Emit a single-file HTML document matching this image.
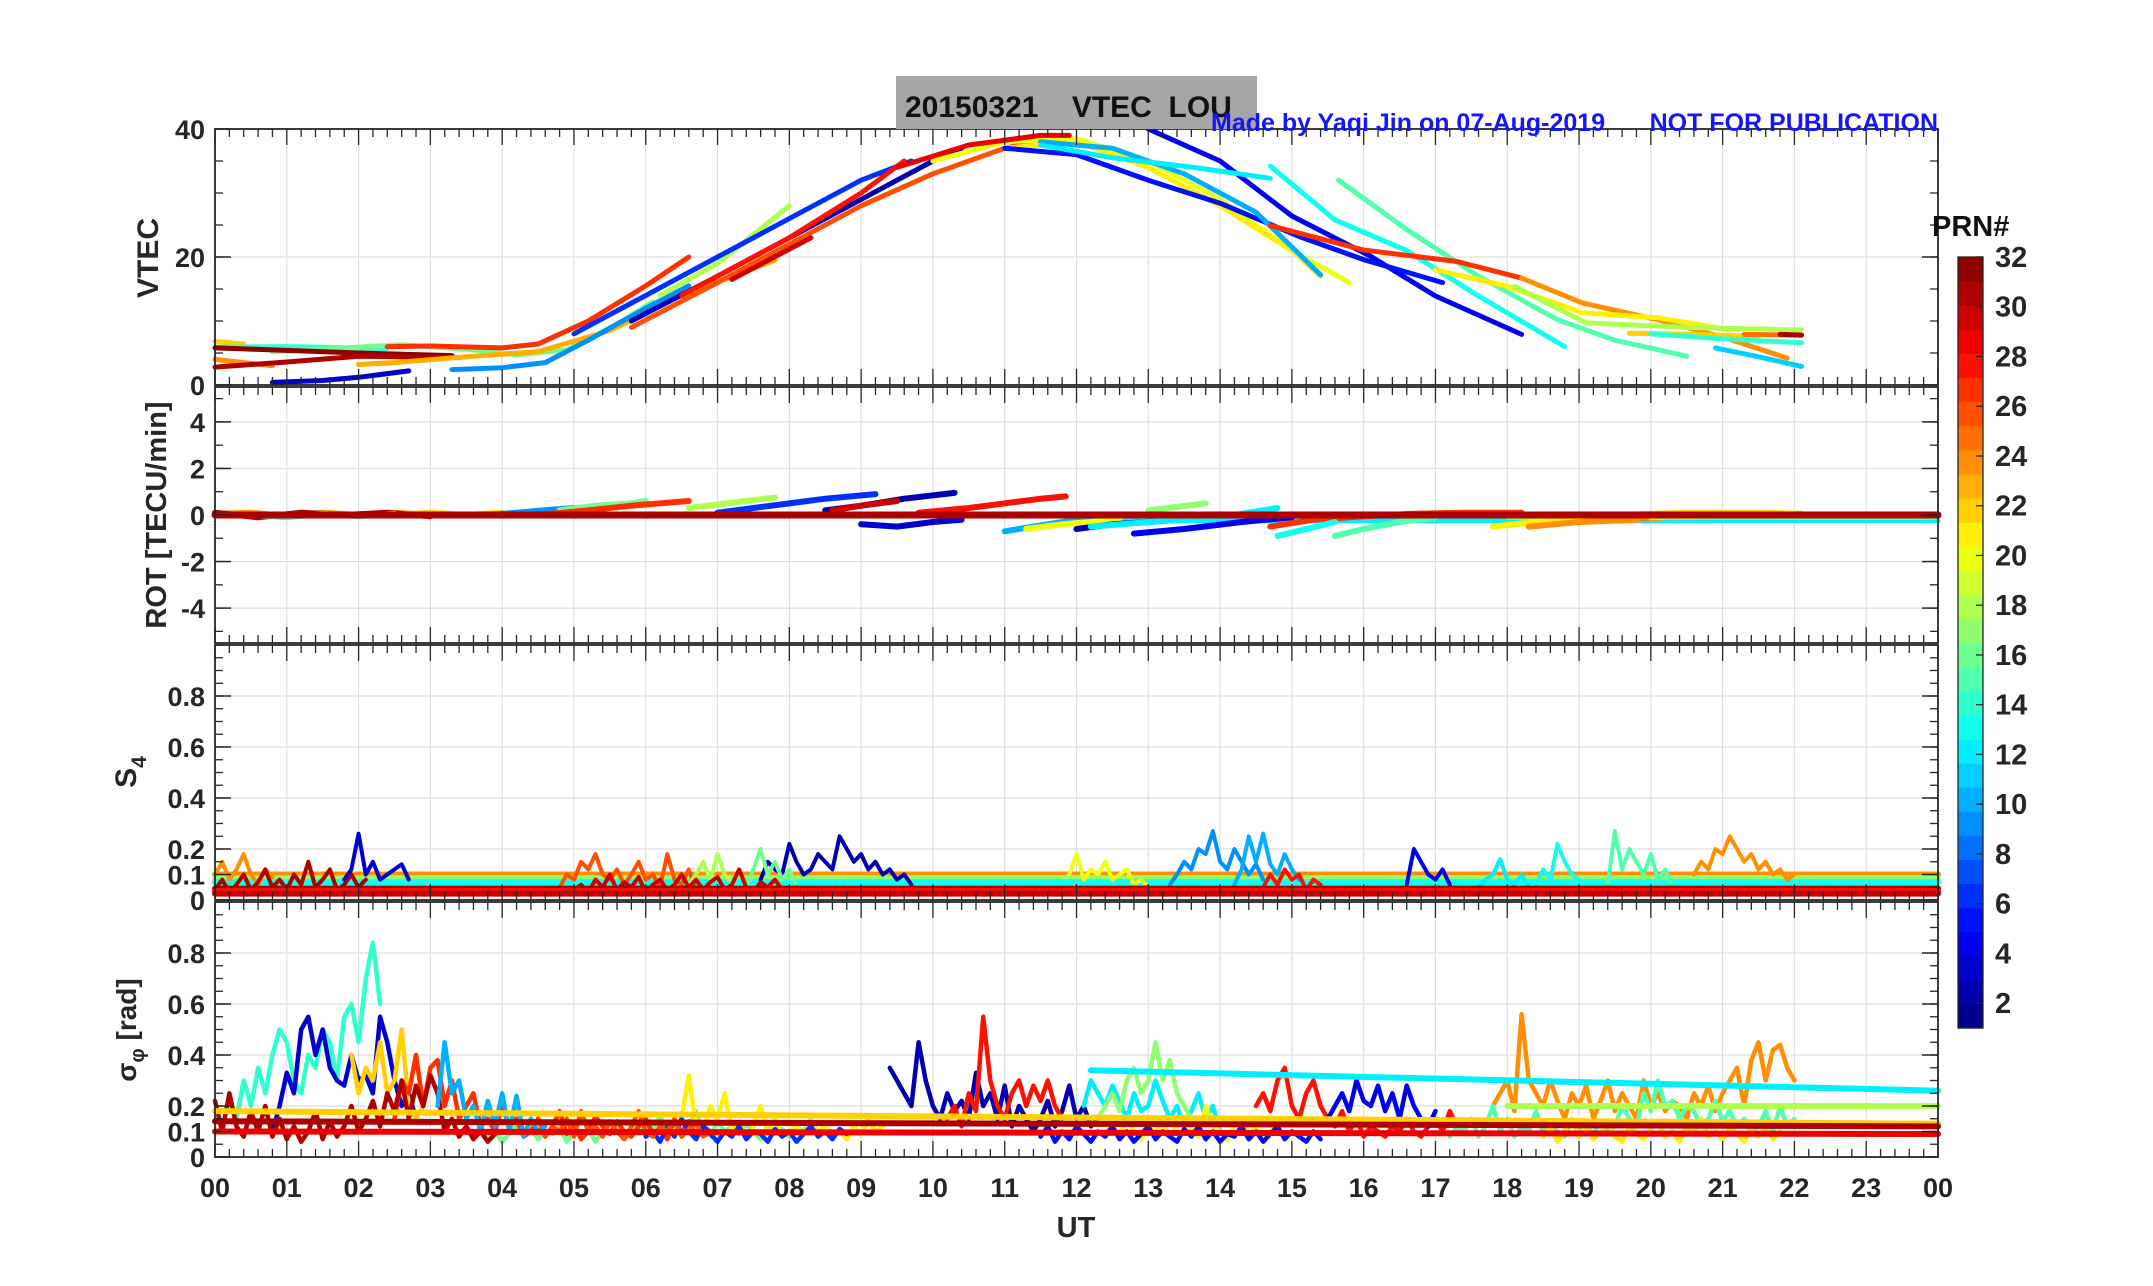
<!DOCTYPE html>
<html><head><meta charset="utf-8"><style>
html,body{margin:0;padding:0;background:#fff;}
svg{display:block;font-family:"Liberation Sans",Arial,sans-serif;}
</style></head><body>
<svg id="fig" width="2153" height="1286" viewBox="0 0 2153 1286" xmlns="http://www.w3.org/2000/svg">
<g id="grid"></g>
<g id="data"></g>
<g id="axes"></g>
<rect x="896" y="76" width="361" height="53" fill="#a6a6a6"/>
<text x="905" y="117" font-size="30" font-weight="bold" fill="#111" xml:space="preserve">20150321    VTEC  LOU</text>
<text x="1211" y="131" font-size="25" font-weight="bold" fill="#1414ff">Made by Yaqi Jin on 07-Aug-2019</text>
<text x="1938" y="131" font-size="25" font-weight="bold" fill="#1414ff" text-anchor="end">NOT FOR PUBLICATION</text>
<text x="1076" y="1237" font-size="29" font-weight="bold" fill="#262626" text-anchor="middle">UT</text>
<text transform="translate(158,258) rotate(-90)" font-size="30" font-weight="bold" fill="#262626" text-anchor="middle">VTEC</text>
<text transform="translate(166,515) rotate(-90)" font-size="29" font-weight="bold" fill="#262626" text-anchor="middle">ROT [TECU/min]</text>
<text transform="translate(136,772) rotate(-90)" font-size="30" font-weight="bold" fill="#262626" text-anchor="middle">S<tspan font-size="21" dy="10">4</tspan></text>
<text transform="translate(136,1030) rotate(-90)" font-size="28" font-weight="bold" fill="#262626" text-anchor="middle">σ<tspan font-size="20" dy="8">φ</tspan><tspan dy="-8"> [rad]</tspan></text>
<text x="1932" y="236" font-size="29" font-weight="bold" fill="#111">PRN#</text>
<g id="cbar"></g>
</svg>
<script>
// ---- data arrays ----
const hourTicks = ["00","01","02","03","04","05","06","07","08","09","10","11","12","13","14","15","16","17","18","19","20","21","22","23","00"];
const vtecTicks = [0,20,40];
const rotTicks = [-4,-2,0,2,4];
const s4Ticks = [0,0.1,0.2,0.4,0.6,0.8];
const sigTicks = [0,0.1,0.2,0.4,0.6,0.8];
const cbarTicks = [2,4,6,8,10,12,14,16,18,20,22,24,26,28,30,32];

// VTEC passes
const vtecPrn = [22,14,16,32,24,31,3,23,27,9,18,26,30,6,2,28,20,21,29,4,5,10,12,13,15,27,24,21,18,22,25,31,11,14];
const vtecT = [
 [0,0.4],[0,1,2.4],[0.8,1.8,2.6,3.5,4.2,4.9,5.6,6.1],[0,1,2,3.3],[0,0.8],[0,1,2,3.4],[0.8,1.5,2.0,2.7],
 [2,2.5,3.5,4.5,5.5,6.5,7.8],[2.4,3,4,4.5,5.2,6,6.6],[3.3,4,4.6,5.2,6,6.6],[6.2,7,8],[5.8,7,8,9,10,11,11.8],
 [7.2,8.3],[5,6,7,8,9,9.7],[5.8,7,8,9,10,10.4],[6.5,8,9,9.6],[10,11,12,13,14,15,15.8],[11,12,13,14,15,15.4],
 [9.5,10.5,11.5,11.9],[13,14,15,16.1,17,18.2],[11,12,13,14,15.1,16,17.1],[11.5,12.5,13.5,14.5,15.4],
 [11.5,12.5,13.7,14.7],[14.7,15.6,16.6,17.6,18.8],[15.65,16.6,17.6,18.7,19.5,20.5],[14.7,16,17.3,18.2],
 [18.2,19.05,20.1,21,21.9],[17,18,19.05,20.1,21.1],[18.1,19.1,20.5,22.1],[19.7,20.6,21.5],[21.3,22.1],[21.8,22.1],[20.9,21.5,22.1],[20,21,22.1]];
const vtecV = [
 [6.8,6.4],[5.9,6.0,5.7],[5.2,5.8,6.3,5.6,4.7,5.5,9.5,13],[5.8,5.4,5.0,4.6],[4,3],[2.8,3.6,4.5,4.3],[0.4,0.7,1.2,2.2],
 [3.2,3.5,4.4,5.2,8.5,14,19.5],[6,6.1,5.8,6.4,10,15.5,20],[2.4,2.7,3.5,7,12,15.5],[14,19,28],[9,16,22,28,33,37,39],
 [16.5,23],[8,14,20,26,32,35],[10,17,23,29,35,37],[14,23,30,35],[35,38,38.5,35,29,21,16],[37,38,34,28,21,17],
 [34,37.5,39,39],[40,35,26.4,20.1,13.9,7.9],[37,36,32,28.4,23.2,19.6,16],[38,37,33,27,17.2],
 [37.5,35.5,33.9,32.3],[34.2,25.8,21,13.9,6],[32,24.3,17,10.2,7,4.5],[24.9,21.1,19.3,16.7],
 [16.7,12.8,10.2,7.5,4.2],[18,15.4,11.3,10.5,8.6],[15.4,9.7,9,8.6],[8.1,7.9,7.6],[7.9,7.8],[7.9,7.8],[5.8,4.4,2.9],[8,7.2,6.6]];

// ROT passes (TECU/min)
const rotPrn = [24,31,14,22,9,16,27,18,6,2,30,28,3,10,20,2,12,17,4,27,13,15,21,24,22,21];
const rotT = [
 [0,0.5,1,1.5,2,2.5,3],[0,0.6,1.2,1.8,2.4,3],[0.5,1,1.5,2,2.5],[2.5,3,3.5,4],[3.8,4.2,4.6,5],[4.8,5.3,5.8,6],[4.5,5.2,5.8,6.6],
 [6.6,7,7.4,7.8],[7,7.5,8,8.5,9.2],[8.5,9,9.6,10.3],[8.6,9,9.5],[9.8,10.5,11,11.5,11.85],[9,9.5,10,10.4],
 [11,11.4,11.8,12.2],[11.3,11.8,12.2,12.6],[12,12.5,13,13.4],[12.2,13,14,14.8],[13,13.4,13.8],[12.8,13.5,14.3,15],
 [14.7,15.3,16,16.7,17.4,18.2],[14.8,15.2,15.6],[15.6,16,16.5,17],[17.8,18.4,19,19.5],[18.3,19,19.8,20.5],[19.5,20.5,21.5,22.1],[20,21,22]];
const rotV = [
 [0.05,0.1,-0.05,0.1,0,0.1,0],[0.1,-0.1,0.1,0,0.1,-0.05],[0,-0.1,0.05,-0.05,0.05],[0,0.1,0,0.1],[0,0.1,0.2,0.3],[0.2,0.4,0.5,0.6],[0,0.2,0.4,0.6],
 [0.3,0.45,0.6,0.75],[0.1,0.3,0.5,0.7,0.9],[0.2,0.4,0.7,0.95],[0.2,0.4,0.6],[0.1,0.3,0.5,0.7,0.8],[-0.4,-0.5,-0.3,-0.2],
 [-0.7,-0.5,-0.3,-0.1],[-0.6,-0.4,-0.3,-0.2],[-0.6,-0.4,-0.3,-0.2],[-0.5,-0.3,-0.1,0.3],[0.2,0.35,0.5],[-0.8,-0.6,-0.3,-0.1],
 [-0.5,-0.2,-0.05,0.05,0.1,0.1],[-0.9,-0.6,-0.3],[-0.9,-0.6,-0.3,-0.1],[-0.5,-0.3,-0.2,0],[-0.5,-0.3,-0.2,0],[0,0.1,0.1,0.05],[-0.1,0,0.05]];

// S4 horizontal fit lines
const s4LinePrn = [24,17,13,31,28,30];
const s4LineV = [0.10,0.085,0.07,0.045,0.035,0.025];
// S4 noisy traces
const s4Prn = [24,31,3,26,2,16,18,9,20,10,28,4,13,15,24,30,12];
const s4T0 = [0,0,1.8,4.8,7.6,7.4,6.6,13.3,11.9,14.2,14.6,16.6,18.4,19.4,20.6,5.0,17.6];
const s4Dt = 0.1;
const s4V = [
 [0.1,0.15,0.08,0.12,0.18,0.1,0.06,0.12,0.09],
 [0.04,0.08,0.03,0.06,0.1,0.04,0.07,0.12,0.05,0.08,0.04,0.1,0.06,0.15,0.05,0.08,0.12,0.04,0.06,0.1,0.05,0.08],
 [0.08,0.12,0.26,0.1,0.15,0.08,0.1,0.12,0.14,0.08],
 [0.05,0.1,0.08,0.15,0.12,0.18,0.1,0.08,0.12,0.06,0.1,0.15,0.08,0.1,0.05,0.18,0.08,0.06,0.12,0.04],
 [0.08,0.15,0.12,0.1,0.22,0.15,0.1,0.12,0.18,0.15,0.12,0.25,0.2,0.15,0.18,0.12,0.15,0.1,0.12,0.08,0.1,0.06],
 [0.06,0.12,0.2,0.1,0.15,0.08,0.12,0.05],
 [0.06,0.1,0.15,0.08,0.18,0.1,0.07],
 [0.06,0.1,0.15,0.12,0.2,0.18,0.27,0.15,0.12,0.2,0.15,0.1,0.14,0.08],
 [0.1,0.18,0.08,0.12,0.1,0.15,0.08,0.1,0.12,0.06,0.08,0.05],
 [0.06,0.12,0.25,0.15,0.26,0.14,0.1,0.18,0.12,0.08],
 [0.05,0.1,0.06,0.12,0.08,0.1,0.04,0.08,0.06],
 [0.06,0.2,0.15,0.1,0.08,0.12,0.06],
 [0.06,0.12,0.08,0.22,0.15,0.1,0.08],
 [0.06,0.27,0.12,0.2,0.15,0.1,0.18,0.08,0.12,0.05],
 [0.1,0.15,0.12,0.2,0.18,0.25,0.2,0.15,0.18,0.12,0.15,0.1,0.12,0.08,0.1],
 [0.04,0.06,0.03,0.08,0.05,0.1,0.04,0.07,0.05,0.09,0.03,0.06,0.08,0.04,0.06,0.1,0.05,0.08,0.04,0.07,0.09,0.04,0.06,0.12,0.05,0.03,0.07,0.05,0.08,0.04],
 [0.05,0.08,0.1,0.16,0.08,0.06,0.1,0.05]];

// sigma_phi horizontal fit lines
const sigLinePrn = [12,18,22,31,29];
const sigLineT0 = [12.2,18.0,0,0,0];
const sigLineV0 = [0.34,0.20,0.18,0.14,0.10];
const sigLineV1 = [0.26,0.20,0.13,0.12,0.09];
// sigma_phi noisy traces
const sigPrn = [16,14,3,22,27,31,10,21,2,6,28,12,17,20,28,4,24,15,26,5,21];
const sigT0 = [3.5,0.3,0.8,1.9,2.5,0,3.1,6.4,9.4,6.0,10.2,12.1,12.3,12.4,14.5,15.5,17.8,17.2,4.6,11.5,18.5];
const sigDt = 0.1;
const sigV = [
 [0.1,0.08,0.12,0.07,0.1,0.06,0.09,0.12,0.08,0.11,0.07,0.1,0.09,0.12,0.06,0.1,0.08,0.11,0.06,0.1,0.09,0.12,0.07,0.1,0.14,0.08,0.11,0.16,0.1,0.13,0.08,0.12,0.18,0.1,0.08,0.14,0.1,0.12,0.09,0.13,0.1,0.07,0.12,0.09,0.11,0.08,0.12,0.1,0.15,0.09],
 [0.15,0.3,0.2,0.35,0.25,0.4,0.5,0.45,0.3,0.25,0.4,0.35,0.5,0.45,0.3,0.55,0.6,0.45,0.7,0.84,0.6],
 [0.1,0.2,0.33,0.25,0.5,0.55,0.4,0.5,0.35,0.3,0.28,0.4,0.3,0.32,0.25,0.55,0.45,0.3,0.2,0.25,0.15],
 [0.4,0.25,0.35,0.3,0.45,0.25,0.3,0.5,0.2,0.15,0.2],
 [0.15,0.3,0.25,0.4,0.2,0.35,0.38,0.2,0.3,0.15,0.2,0.25,0.12,0.15,0.1,0.2,0.12,0.15,0.08,0.1,0.15,0.08,0.12,0.18,0.09,0.13,0.07,0.1,0.16,0.12,0.09,0.14,0.1,0.08,0.12,0.15,0.09,0.11,0.07,0.13,0.1,0.14,0.08,0.12,0.1],
 [0.22,0.1,0.25,0.12,0.08,0.18,0.1,0.2,0.08,0.15,0.07,0.12,0.06,0.1,0.18,0.07,0.14,0.08,0.12,0.2,0.1,0.15,0.22,0.12,0.25,0.18,0.3,0.15,0.28,0.2,0.32,0.25,0.1,0.15,0.08,0.12,0.07,0.1,0.06,0.09],
 [0.2,0.45,0.25,0.3,0.15,0.2,0.1,0.22,0.12,0.25,0.1,0.24,0.08,0.15,0.1,0.12],
 [0.1,0.15,0.32,0.12,0.1,0.2,0.15,0.25,0.1,0.14,0.08,0.12,0.2,0.1,0.15,0.08,0.1,0.12,0.09,0.14,0.1,0.12,0.08,0.1,0.07,0.12,0.09,0.15,0.1,0.12],
 [0.35,0.3,0.25,0.2,0.45,0.3,0.2,0.15,0.25,0.18,0.22,0.15,0.33,0.2,0.25,0.15,0.28,0.12,0.2,0.15,0.1,0.15,0.22,0.12,0.18,0.28,0.15,0.2,0.12,0.15],
 [0.08,0.1,0.06,0.12,0.08,0.15,0.1,0.07,0.12,0.09,0.06,0.1,0.08,0.12,0.07,0.1,0.09,0.06,0.11,0.08,0.1,0.06,0.09,0.12,0.08,0.1,0.07,0.11,0.09],
 [0.15,0.2,0.12,0.25,0.18,0.55,0.3,0.2,0.15,0.25,0.3,0.2,0.28,0.22,0.3,0.2,0.15],
 [0.2,0.3,0.25,0.2,0.28,0.22,0.15,0.25,0.18,0.2,0.3,0.22,0.15,0.2,0.12,0.18,0.25,0.15,0.2,0.1],
 [0.15,0.2,0.25,0.18,0.3,0.35,0.25,0.3,0.45,0.3,0.38,0.25,0.2,0.15],
 [0.1,0.12,0.08,0.15,0.1,0.07,0.12,0.09,0.14,0.08,0.12,0.16,0.1,0.08,0.2,0.12,0.1,0.07,0.12,0.15,0.09,0.11,0.08,0.1,0.13],
 [0.2,0.25,0.18,0.3,0.35,0.2,0.15,0.25,0.3,0.2,0.15,0.12,0.18,0.1,0.15,0.08,0.12,0.1,0.08,0.12,0.1,0.15,0.1,0.08,0.12,0.15,0.1,0.18,0.12],
 [0.15,0.2,0.25,0.18,0.3,0.22,0.2,0.28,0.18,0.25,0.15,0.28,0.2,0.15,0.12,0.18],
 [0.2,0.25,0.3,0.18,0.56,0.3,0.25,0.2,0.3,0.22,0.15,0.25,0.2,0.28,0.15,0.22,0.3,0.18,0.25,0.2,0.15,0.3,0.2,0.25,0.18,0.22,0.2,0.15,0.25,0.2,0.28,0.18,0.25,0.3,0.35,0.2,0.38,0.45,0.3,0.42,0.44,0.35,0.3],
 [0.08,0.12,0.1,0.15,0.08,0.12,0.2,0.1,0.15,0.08,0.12,0.1,0.18,0.09,0.13,0.1,0.08,0.15,0.1,0.12,0.09,0.14,0.1,0.12,0.2,0.15,0.12,0.25,0.18,0.3,0.2,0.22,0.15,0.2,0.18,0.12,0.15,0.22,0.14,0.18,0.12,0.15,0.1,0.12,0.18,0.1,0.2,0.12,0.15],
 [0.08,0.12,0.1,0.15,0.08,0.18,0.1,0.12,0.08,0.14,0.1,0.07,0.12,0.18,0.1,0.08,0.12,0.1,0.15,0.08,0.11,0.13,0.08,0.1],
 [0.08,0.12,0.06,0.1,0.07,0.12,0.09,0.06,0.1,0.08,0.12,0.07,0.1,0.06,0.09,0.12,0.07,0.1,0.08,0.06,0.11,0.08,0.12,0.07,0.1,0.06,0.09,0.08,0.12,0.07,0.1,0.06,0.09,0.12,0.07,0.1,0.08,0.06,0.1,0.07],
 [0.08,0.12,0.06,0.1,0.15,0.08,0.12,0.07,0.1,0.14,0.08,0.06,0.12,0.09,0.07,0.11,0.14,0.08,0.1,0.06,0.12,0.09,0.15,0.08,0.1,0.07,0.12,0.09,0.06,0.11,0.08,0.12,0.07,0.1]];

// ---- geometry & axis functions ----
const X0=215, X1=1938;
const P = {
 vtec:{top:129,bot:385,min:0,max:40},
 rot:{top:387,bot:643,min:-5.5,max:5.5},
 s4:{top:645,bot:900,min:0,max:1},
 sig:{top:902,bot:1157,min:0,max:1}
};
const xs = h => X0 + (X1-X0)*h/24;
const ys = (p,v) => { const a=P[p]; const c=Math.max(a.min,Math.min(a.max,v)); return a.bot-(a.bot-a.top)*(c-a.min)/(a.max-a.min); };
function jet(x){const c=t=>Math.max(0,Math.min(1,t));const r=c(1.5-Math.abs(4*x-3)),g=c(1.5-Math.abs(4*x-2)),b=c(1.5-Math.abs(4*x-1));return `rgb(${Math.round(r*255)},${Math.round(g*255)},${Math.round(b*255)})`;}
const prnColor = p => jet((p-0.5)/32);
const NS="http://www.w3.org/2000/svg";
function mk(tag,attrs,parent){const e=document.createElementNS(NS,tag);for(const k in attrs)e.setAttribute(k,attrs[k]);parent.appendChild(e);return e;}
const gG=document.getElementById('grid'), gD=document.getElementById('data'), gA=document.getElementById('axes'), gC=document.getElementById('cbar');

function poly(panel,t,v,prn,w,name){
  const pts=t.map((h,i)=>xs(h).toFixed(1)+','+ys(panel,v[i]).toFixed(1)).join(' ');
  const el=mk('polyline',{points:pts,fill:'none',stroke:prnColor(prn),'stroke-width':w,'stroke-linejoin':'round','stroke-linecap':'round'},gD);
  
  
}

// ---- grid, ticks, frames ----
const yTicks={vtec:vtecTicks,rot:rotTicks,s4:s4Ticks,sig:sigTicks};
const yMinor={vtec:5,rot:1,s4:0.05,sig:0.05};
for(const p in P){
  const a=P[p];
  for(let h=1;h<24;h++) mk('line',{x1:xs(h),x2:xs(h),y1:a.top,y2:a.bot,stroke:'#dedede','stroke-width':1.2},gG);
  yTicks[p].forEach(v=>{ if(v>a.min&&v<a.max) mk('line',{x1:X0,x2:X1,y1:ys(p,v),y2:ys(p,v),stroke:'#dedede','stroke-width':1.2},gG); });
  for(let k=0;k<=120;k++){const h=k/5, x=xs(h), L=(k%5===0)?16:8;
    mk('line',{x1:x,x2:x,y1:a.top,y2:a.top+L,stroke:'#262626','stroke-width':1.3},gA);
    mk('line',{x1:x,x2:x,y1:a.bot,y2:a.bot-L,stroke:'#262626','stroke-width':1.3},gA);}
  const st=yMinor[p];
  for(let v=Math.ceil(a.min/st)*st; v<=a.max+1e-9; v+=st){const y=ys(p,v);
    mk('line',{x1:X0,x2:X0+8,y1:y,y2:y,stroke:'#262626','stroke-width':1.3},gA);
    mk('line',{x1:X1,x2:X1-8,y1:y,y2:y,stroke:'#262626','stroke-width':1.3},gA);}
  yTicks[p].forEach(v=>{const y=ys(p,v);
    mk('line',{x1:X0,x2:X0+16,y1:y,y2:y,stroke:'#262626','stroke-width':1.5},gA);
    mk('line',{x1:X1,x2:X1-16,y1:y,y2:y,stroke:'#262626','stroke-width':1.5},gA);
    const lab=mk('text',{x:X0-10,y:y+10,'font-size':27,'font-weight':'bold',fill:'#262626','text-anchor':'end'},gA);
    lab.textContent=String(v);
    
    
  });
  const fr=mk('rect',{x:X0,y:a.top,width:X1-X0,height:a.bot-a.top,fill:'none',stroke:'#262626','stroke-width':1.8},gA);
  
  
}
hourTicks.forEach((s,i)=>{const t=mk('text',{x:xs(i),y:1197,'font-size':27,'font-weight':'bold',fill:'#262626','text-anchor':'middle'},gA);
  t.textContent=s;
  
  
});

// ---- VTEC ----
vtecPrn.forEach((p,i)=>poly('vtec',vtecT[i],vtecV[i],p,5,'vtec-pass-prn'+p));

// ---- ROT ----
poly('rot',[12,24],[-0.25,-0.25],12,5,'rot-fit-line');
poly('rot',[18,24],[-0.1,-0.1],17,5,'rot-fit-line');
rotPrn.forEach((p,i)=>poly('rot',rotT[i],rotV[i],p,6,'rot-pass-prn'+p));
poly('rot',[0,24],[0,0],31,7,'rot-zero-line');

// ---- S4 ----
s4LinePrn.forEach((p,i)=>{ if(i<3) poly('s4',[0,24],[s4LineV[i],s4LineV[i]],p,6,'s4-fit-line'); });
s4Prn.forEach((p,i)=>poly('s4',s4V[i].map((_,k)=>s4T0[i]+k*s4Dt),s4V[i],p,4,'s4-trace-prn'+p));
s4LinePrn.forEach((p,i)=>{ if(i>=3) poly('s4',[0,24],[s4LineV[i],s4LineV[i]],p,6,'s4-fit-line'); });

// ---- sigma phi ----
sigPrn.forEach((p,i)=>poly('sig',sigV[i].map((_,k)=>sigT0[i]+k*sigDt),sigV[i],p,4.5,'sigma-trace-prn'+p));
sigLinePrn.forEach((p,i)=>poly('sig',[sigLineT0[i],24],[sigLineV0[i],sigLineV1[i]],p,6,'sigma-fit-line'));

// ---- colorbar ----
const CB={x:1958,w:25,top:257,bot:1028};
for(let k=0;k<32;k++){const h=(CB.bot-CB.top)/32;
  mk('rect',{x:CB.x,y:CB.bot-(k+1)*h,width:CB.w,height:h+0.6,fill:jet((k+0.5)/32),stroke:'none'},gC);}
mk('rect',{x:CB.x,y:CB.top,width:CB.w,height:CB.bot-CB.top,fill:'none',stroke:'#262626','stroke-width':1.3},gC);
const cbY = v => CB.bot-(CB.bot-CB.top)*(v-1)/31;
cbarTicks.forEach(v=>{const y=cbY(v);
  mk('line',{x1:CB.x+CB.w-7,x2:CB.x+CB.w,y1:y,y2:y,stroke:'#262626','stroke-width':1.3},gC);
  const t=mk('text',{x:1995,y:y+10,'font-size':29,'font-weight':'bold',fill:'#262626'},gC);
  t.textContent=String(v);
  
  
});
</script>
</body></html>
